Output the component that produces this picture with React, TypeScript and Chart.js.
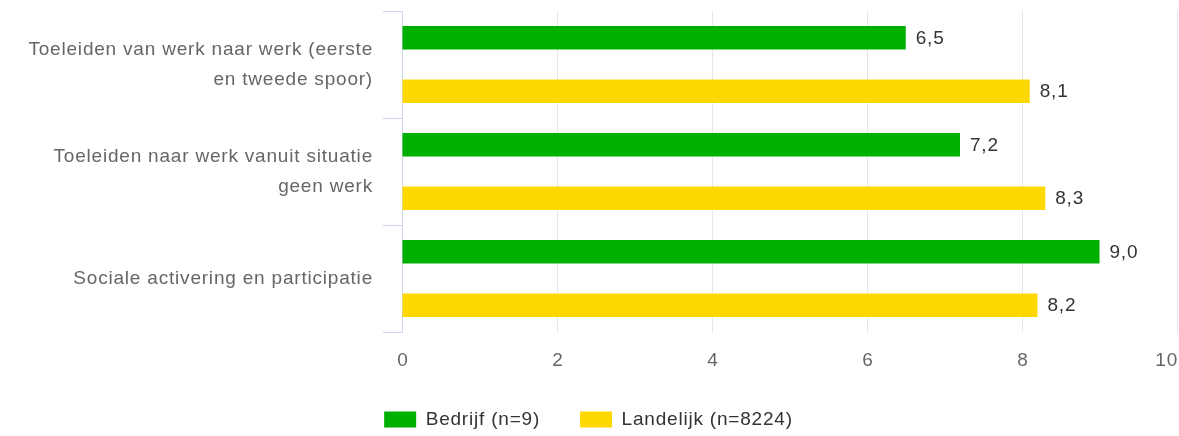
import React, { useEffect, useRef } from "react";
import { Chart, registerables } from "chart.js";

Chart.register(...registerables);

const categories: string[][] = [
  ["Toeleiden van werk naar werk (eerste", "en tweede spoor)"],
  ["Toeleiden naar werk vanuit situatie", "geen werk"],
  ["Sociale activering en participatie"],
];
const bedrijfValues = [6.5, 7.2, 9.0];
const landelijkValues = [8.1, 8.3, 8.2];
const seriesNames = ["Bedrijf (n=9)", "Landelijk (n=8224)"];
const xTicks = [0, 2, 4, 6, 8, 10];

const FONT = "'Liberation Sans', Arial, Helvetica, sans-serif";
const FS = 19;
const LS = "0.8px";

const spacingPlugin = {
  id: "spacing",
  beforeUpdate(chart: any) {
    chart.ctx.letterSpacing = LS;
  },
  beforeLayout(chart: any) {
    chart.ctx.letterSpacing = LS;
  },
  beforeDraw(chart: any) {
    chart.ctx.letterSpacing = LS;
  },
};

const valueLabels = {
  id: "valueLabels",
  afterDatasetsDraw(chart: any) {
    const ctx = chart.ctx;
    ctx.save();
    ctx.letterSpacing = LS;
    ctx.font = `${FS}px ${FONT}`;
    ctx.fillStyle = "#333333";
    ctx.textAlign = "left";
    ctx.textBaseline = "middle";
    chart.data.datasets.forEach((ds: any, i: number) => {
      chart.getDatasetMeta(i).data.forEach((bar: any, j: number) => {
        const v = ds.data[j] as number;
        ctx.fillText(v.toFixed(1).replace(".", ","), bar.x + 10, bar.y + 1);
      });
    });
    ctx.restore();
  },
};

const xLabels = {
  id: "xLabels",
  afterDraw(chart: any) {
    const ctx = chart.ctx;
    const sx = chart.scales.x;
    ctx.save();
    ctx.letterSpacing = LS;
    ctx.font = `${FS}px ${FONT}`;
    ctx.fillStyle = "#666666";
    ctx.textBaseline = "middle";
    xTicks.forEach((v, i) => {
      const px = sx.getPixelForValue(v);
      const text = String(v);
      if (i === xTicks.length - 1) {
        ctx.textAlign = "right";
        ctx.fillText(text, chart.width - 1, 361);
      } else {
        ctx.textAlign = "center";
        ctx.fillText(text, px + 1, 361);
      }
    });
    ctx.restore();
  },
};

export default function App() {
  const ref = useRef<HTMLCanvasElement | null>(null);

  useEffect(() => {
    if (!ref.current) return;
    const chart = new Chart(ref.current, {
      type: "bar",
      data: {
        labels: categories as any,
        datasets: [
          {
            label: seriesNames[0],
            data: bedrijfValues,
            backgroundColor: "#00b000",
            borderWidth: 0,
            categoryPercentage: 1.0,
            barPercentage: 0.44,
          },
          {
            label: seriesNames[1],
            data: landelijkValues,
            backgroundColor: "#ffd800",
            borderWidth: 0,
            categoryPercentage: 1.0,
            barPercentage: 0.44,
          },
        ],
      },
      options: {
        indexAxis: "y",
        responsive: false,
        animation: false,
        events: [],
        layout: { padding: { top: 11, right: 2, left: 0, bottom: -3 } },
        plugins: {
          tooltip: { enabled: false },
          legend: {
            position: "bottom",
            labels: {
              boxWidth: 32,
              boxHeight: 16,
              padding: 40,
              color: "#333333",
              font: { size: FS, family: FONT },
            },
          },
        },
        scales: {
          x: {
            type: "linear",
            min: 0,
            max: 10,
            afterBuildTicks: (s: any) => {
              s.ticks = xTicks.map((v) => ({ value: v }));
            },
            afterFit: (s: any) => {
              s.height = 38;
              s.paddingLeft = 0;
              s.paddingRight = 0;
            },
            grid: { color: "#e6e6e6", drawTicks: false, lineWidth: 1 },
            border: { display: false },
            ticks: { display: false },
          },
          y: {
            type: "category",
            afterFit: (s: any) => {
              s.width = 402;
              s.paddingTop = 0;
              s.paddingBottom = 0;
            },
            grid: {
              offset: true,
              drawOnChartArea: false,
              color: "#ccd6eb",
              tickLength: 19,
              lineWidth: 1,
            },
            border: { color: "#ccd6eb", width: 1 },
            ticks: {
              color: "#666666",
              padding: 10,
              autoSkip: false,
              font: { size: FS, family: FONT, lineHeight: 30 / FS },
            },
          },
        },
      },
      plugins: [spacingPlugin, valueLabels, xLabels],
    });
    return () => chart.destroy();
  }, []);

  return (
    <div style={{ position: "absolute", left: 0, top: 0, width: 1179, height: 436, background: "#fff" }}>
      <canvas ref={ref} width={1179} height={436} style={{ display: "block" }} />
    </div>
  );
}
